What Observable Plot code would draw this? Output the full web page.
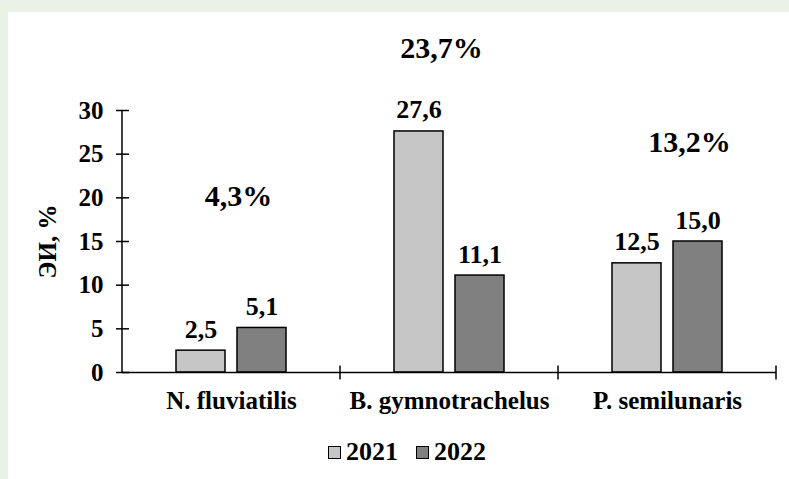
<!DOCTYPE html>
<html><head><meta charset="utf-8">
<script src="https://cdn.jsdelivr.net/npm/d3@7"></script>
<script src="https://cdn.jsdelivr.net/npm/@observablehq/plot@0.6"></script>
<style>
html,body{margin:0;padding:0;background:#eaf2e6;width:789px;height:479px;overflow:hidden;}
#panel{position:absolute;left:8px;top:12px;width:781px;height:467px;background:#fff;}
#chart{position:absolute;left:0;top:0;}
#legend{position:absolute;left:320px;top:425px;display:flex;align-items:center;font-family:"Liberation Serif","Times New Roman",serif;font-weight:bold;font-size:26px;color:#000;}
#legend .item{display:flex;align-items:center;margin-right:18px;}
#legend .sw{width:11px;height:11px;border:1.5px solid #000;margin-right:5px;}
</style></head><body>
<div id="panel"><div id="chart"></div><div id="legend"></div></div>
<script>
const categories = ["N. fluviatilis", "B. gymnotrachelus", "P. semilunaris"];
const years = ["2021", "2022"];
const values2021 = [2.5, 27.6, 12.5];
const values2022 = [5.1, 11.1, 15.0];
const totals = [4.3, 23.7, 13.2];
const yTicks = [0, 5, 10, 15, 20, 25, 30];
const yearColors = ["#c6c6c6", "#808080"];

const rows = categories.flatMap((c, i) => [
  {category: c, year: years[0], value: values2021[i]},
  {category: c, year: years[1], value: values2022[i]}
]);
const fmt = v => d3.format(".1f")(v).replace(".", ",");

// annotation placement for the species totals (in y units and pixel nudges)
const totalRows = categories.map((c, i) => ({category: c, total: totals[i]}));
const totalY = {"N. fluviatilis": 19.1, "B. gymnotrachelus": 36.0, "P. semilunaris": 25.2};
const totalDx = {"N. fluviatilis": 7, "B. gymnotrachelus": -8, "P. semilunaris": 22};

const font = "Liberation Serif, Times New Roman, serif";
const SVGNS = "http://www.w3.org/2000/svg";

// short ticks crossing the baseline at the right edge of each category band
const boundaryTicks = (index, scales, values, dimensions, context, next) => {
  const g = next(index, scales, values, dimensions, context);
  const ln = g.querySelector("line");
  if (ln) {
    const x2 = ln.getAttribute("x2"), y = +ln.getAttribute("y1");
    const t = document.createElementNS(SVGNS, "line");
    t.setAttribute("x1", x2); t.setAttribute("x2", x2);
    t.setAttribute("y1", y - 7); t.setAttribute("y2", y + 7);
    t.setAttribute("stroke", "#000"); t.setAttribute("stroke-width", 1.5);
    g.appendChild(t);
  }
  return g;
};
// vertical y-axis line at the left edge of the first category band
const yAxisLine = (index, scales, values, dimensions, context, next) => {
  const g = next(index, scales, values, dimensions, context);
  const ln = g.querySelector("line");
  if (ln) {
    const x1 = ln.getAttribute("x1");
    ln.setAttribute("x2", x1);
    ln.setAttribute("y1", scales.y(yTicks[yTicks.length - 1]));
    ln.setAttribute("y2", scales.y(0));
  }
  return g;
};

const plot = Plot.plot({
  width: 781, height: 420,
  marginLeft: 113, marginRight: 12, marginTop: 98, marginBottom: 60,
  style: {fontFamily: font, fontWeight: "bold", fontSize: "24px", color: "#000", background: "transparent", overflow: "visible"},
  fx: {domain: categories, padding: 0, label: null, axis: null},
  x: {domain: years, paddingInner: 0.19, paddingOuter: 0.86, axis: null},
  y: {domain: [0, 30], axis: null},
  color: {domain: years, range: yearColors},
  marks: [
    Plot.barY(rows, {fx: "category", x: "year", y: "value", fill: "year", stroke: "#000", strokeWidth: 1.5}),
    Plot.ruleY([0], {stroke: "#000", strokeWidth: 1.5, render: boundaryTicks}),
    Plot.ruleY([{category: categories[0]}], {fx: "category", y: 0, stroke: "#000", strokeWidth: 1.5, render: yAxisLine}),
    Plot.axisY({ticks: yTicks, tickSize: 6, tickPadding: 13, strokeWidth: 1.5, fontSize: 25, label: null}),
    Plot.axisY({ticks: yTicks, tickSize: -7, tickFormat: () => "", strokeWidth: 1.5, fontSize: 25,
      label: "ЭИ, %", labelAnchor: "center", labelArrow: "none", labelOffset: 84}),
    Plot.axisFx({anchor: "bottom", tickSize: 0, tickPadding: 19, label: null, fontSize: 25}),
    Plot.text(rows, {fx: "category", x: "year", y: "value", text: d => fmt(d.value),
      lineAnchor: "bottom", dy: -13, fontSize: 26, fontWeight: "bold"}),
    Plot.text(totalRows, {fx: "category", y: d => totalY[d.category], frameAnchor: "middle",
      text: d => fmt(d.total) + "%", lineAnchor: "bottom", fontSize: 30, fontWeight: "bold",
      render: (index, scales, values, dim, ctx, next) => {
        const g = next(index, scales, values, dim, ctx);
        g.querySelectorAll("text").forEach((t, k) => {
          const d = totalRows[index[k]];
          t.setAttribute("transform", `translate(${totalDx[d.category]},0) ` + (t.getAttribute("transform") || ""));
        });
        return g;
      }})
  ]
});
document.getElementById("chart").appendChild(plot);

const legend = document.getElementById("legend");
years.forEach((y, i) => {
  const item = document.createElement("div");
  item.className = "item";
  const sw = document.createElement("div");
  sw.className = "sw"; sw.style.background = yearColors[i];
  const lab = document.createElement("span"); lab.textContent = y;
  item.appendChild(sw); item.appendChild(lab);
  legend.appendChild(item);
});
</script>
</body></html>
